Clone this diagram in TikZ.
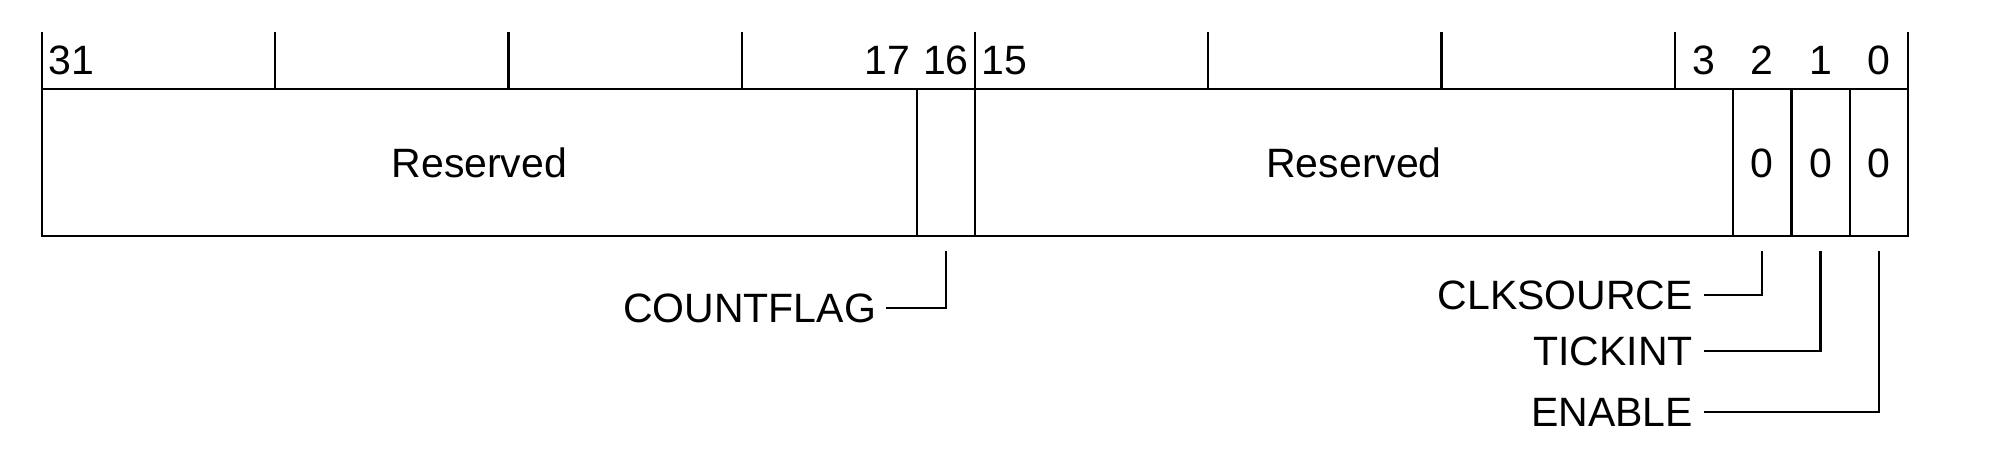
\documentclass[tikz,border=0pt]{standalone}
\usepackage{fontspec}
\setmainfont{Liberation Sans}
\newcommand{\regfont}{\fontsize{20.5pt}{24pt}\selectfont}
\begin{document}
\begin{tikzpicture}[x=0.5pt,y=-0.5pt,line width=1.1pt,
  txt/.style={inner sep=0pt,text height=14.7pt,text depth=0pt,font=\regfont},
  field/.style={draw,txt,minimum height=73.5pt,anchor=center},
  leader/.style={line width=1.1pt}]
\useasboundingbox (0,0) rectangle (2000,464);
\def\bw{58.3125}
% top ticks every 4 bits
\foreach \k in {0,...,8}{
  \draw (42+4*\k*\bw,32) -- (42+4*\k*\bw,89);
}
% fields
\node[field,minimum width=437.34pt] (res1) at (479.34,162.5) {Reserved};
\node[field,minimum width=29.16pt]  (f16)  at (945.84,162.5) {};
\node[field,minimum width=379.03pt] (res2) at (1354.03,162.5) {Reserved};
\node[field,minimum width=29.16pt]  (f2)   at (1762.22,162.5) {0};
\node[field,minimum width=29.16pt]  (f1)   at (1820.53,162.5) {0};
\node[field,minimum width=29.16pt]  (f0)   at (1878.84,162.5) {0};
% bit numbers
\foreach \b/\n in {31/b31,17/b17,16/b16,15/b15,3/b3,2/b2,1/b1,0/b0}{
  \node[txt] (\n) at (42+31.5*\bw-\b*\bw,60) {\b};
}
% labels
\node[txt,anchor=east] (cf)  at (877,308)  {COUNTFLAG};
\node[txt,anchor=east] (cs)  at (1694,295) {CLKSOURCE};
\node[txt,anchor=east] (ti)  at (1694,351) {TICKINT};
\node[txt,anchor=east] (en)  at (1694,412) {ENABLE};
% leader start points
\coordinate (cf-t) at ([yshift=-7pt]f16.south);
\coordinate (cs-t) at ([yshift=-7pt]f2.south);
\coordinate (ti-t) at ([yshift=-7pt]f1.south);
\coordinate (en-t) at ([yshift=-7pt]f0.south);
\draw[leader] ([xshift=4.5pt]cf.east) -| (cf-t);
\draw[leader] ([xshift=5pt]cs.east) -| (cs-t);
\draw[leader] ([xshift=5pt]ti.east) -| (ti-t);
\draw[leader] ([xshift=5pt]en.east) -| (en-t);
\end{tikzpicture}
\end{document}
